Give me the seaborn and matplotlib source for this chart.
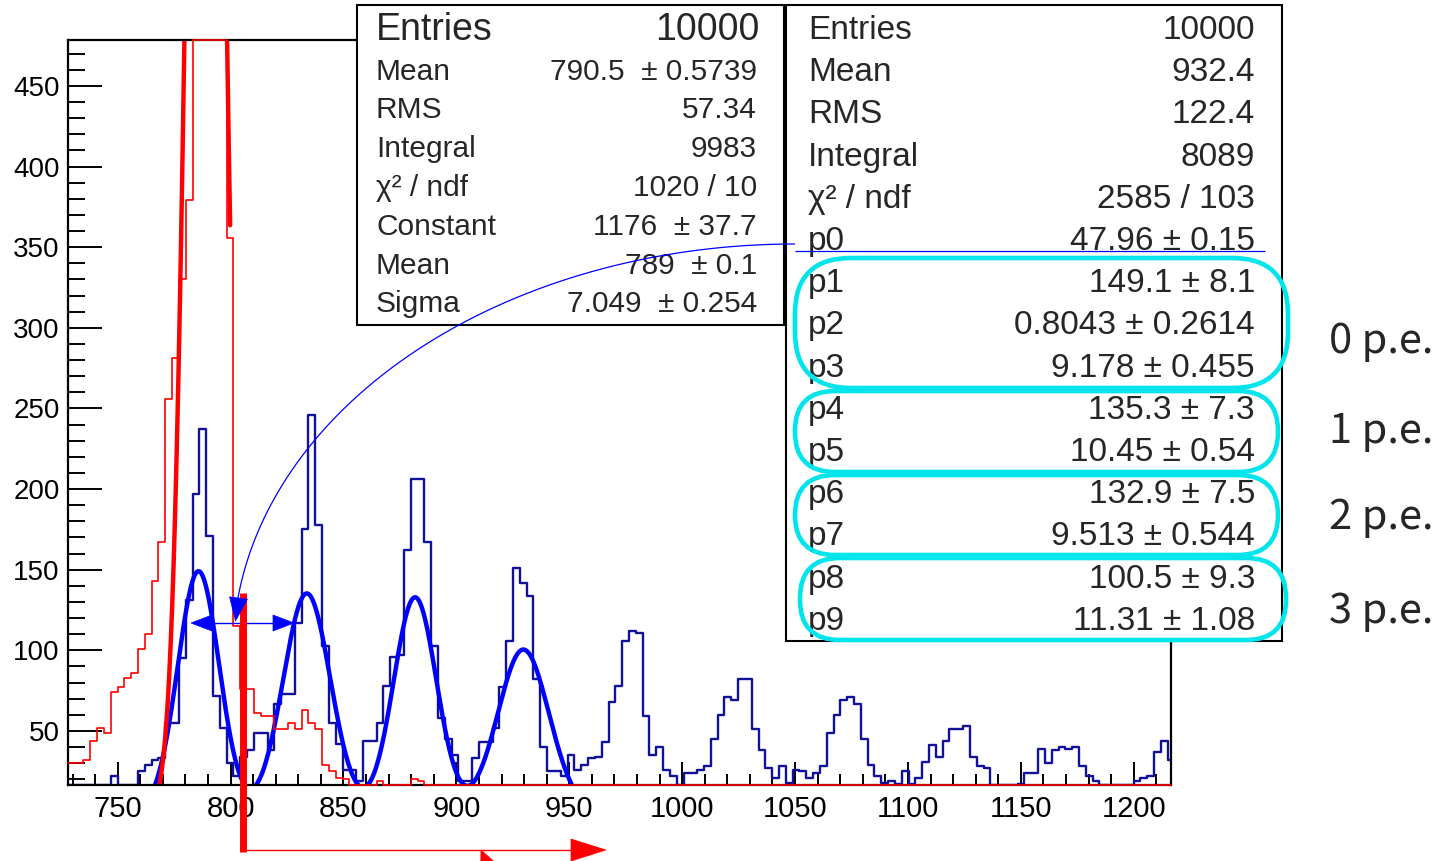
import numpy as np
import pandas as pd
import matplotlib
matplotlib.use("Agg")
import matplotlib.pyplot as plt
import seaborn as sns
from matplotlib.patches import Rectangle, FancyBboxPatch, Polygon
from matplotlib.lines import Line2D
from matplotlib.transforms import IdentityTransform
from matplotlib.ticker import MultipleLocator

# ---------------- data ----------------
BIN_START = 725.78
BIN_WIDTH = 3.02

blue_counts = [2, 3, 4, 5, 6, 8, 10,
    22, 14, 14, 14, 25, 29, 32, 33, 55, 55, 95, 131, 197, 237, 171, 72, 52, 30, 22,
    34, 38, 49, 49, 38, 67, 73, 73, 117, 175, 246, 178, 103, 55, 42, 26, 26, 19, 44, 44,
    55, 78, 96, 97, 162, 206, 206,
    167, 103, 58, 45, 35, 19, 19, 33, 43, 43, 52, 77, 106, 151, 142, 134, 82, 40, 25, 25, 22, 35, 26, 29, 33,
    34, 43, 68, 78, 106, 112, 111, 59, 35, 40, 26, 22, 12, 24, 24, 26, 28, 45, 60, 71, 69, 82, 82,
    51, 38, 27, 21, 28, 18, 26, 25, 21, 24, 28, 49, 60, 69, 71, 67, 45, 29, 22,
    18, 19, 17, 25, 17, 21, 31, 41, 34, 44, 51, 51, 53, 34, 28, 27, 10, 8, 6, 10,
    17, 24, 24, 39, 30, 38, 40, 39, 40, 28, 22, 19, 10, 8, 6, 8, 12, 19, 21, 22, 37, 44, 32]

red_counts = [30, 30, 30, 32, 44, 52, 49, 74, 77, 83, 86, 101, 110, 143, 167, 256, 281, 330, 379,
    700, 1150, 1200, 900, 600, 356, 115, 76, 76, 61, 59, 59, 51, 51, 55, 51, 63, 55, 51,
    29, 25, 21, 20, 10, 6, 5, 4, 19, 4, 3, 3, 4, 20, 19, 3] + [0] * 109

# Gaussian fit of the red histogram
red_fit_const, red_fit_mean, red_fit_sigma = 1176.0, 789.0, 7.049
red_fit_range = [762.0, 799.8]

# multi-Gaussian fit of the blue histogram
blue_fit_gain = 47.96
blue_fit_first_mean = 785.8
blue_fit_amps = [149.1, 135.3, 132.9, 100.5]
blue_fit_sigmas = [9.178, 10.45, 9.513, 11.31]
blue_fit_range = [755.0, 951.0]

x_ticks = [750, 800, 850, 900, 950, 1000, 1050, 1100, 1150, 1200]
y_ticks = [50, 100, 150, 200, 250, 300, 350, 400, 450]
XLIM = (728.0, 1216.5)
YLIM = (16.5, 478.5)

stats_red = [("Mean", "790.5  ± 0.5739"), ("RMS", "57.34"), ("Integral", "9983"),
             ("χ² / ndf", "1020 / 10"), ("Constant", "1176  ± 37.7"), ("Mean", "789  ± 0.1"),
             ("Sigma", "7.049  ± 0.254")]
stats_blue = [("Entries", "10000"), ("Mean", "932.4"), ("RMS", "122.4"), ("Integral", "8089"),
              ("χ² / ndf", "2585 / 103"), ("p0", "47.96 ± 0.15"), ("p1", "149.1 ± 8.1"),
              ("p2", "0.8043 ± 0.2614"), ("p3", "9.178 ± 0.455"), ("p4", "135.3 ± 7.3"),
              ("p5", "10.45 ± 0.54"), ("p6", "132.9 ± 7.5"), ("p7", "9.513 ± 0.544"),
              ("p8", "100.5 ± 9.3"), ("p9", "11.31 ± 1.08")]
pe_labels = ["0 p.e.", "1 p.e.", "2 p.e.", "3 p.e."]

# ---------------- style ----------------
sns.set_theme(style="ticks")
plt.rcParams["font.family"] = ["Liberation Sans", "DejaVu Sans"]

W, H = 1441, 861
fig = plt.figure(figsize=(W / 100, H / 100), dpi=100)
fig.patch.set_facecolor("white")
ax = fig.add_axes([68 / W, 1 - 785 / H, (1171 - 68) / W, (785 - 40) / H])
ax.set_facecolor("white")

NAVY = "#10109a"
BLUE = "#0000ff"
RED = "#ff0000"
CYAN = "#00e4ec"

edges = BIN_START + BIN_WIDTH * np.arange(len(blue_counts) + 1)


def step_frame(counts):
    c = np.clip(np.asarray(counts, float), YLIM[0], YLIM[1])
    return pd.DataFrame({"x": np.clip(edges, XLIM[0], XLIM[1]), "y": np.append(c, c[-1])})


blue_df = step_frame(blue_counts)
red_df = step_frame(red_counts)

sns.lineplot(data=blue_df, x="x", y="y", drawstyle="steps-post", estimator=None, sort=False,
             color=NAVY, linewidth=1.7, ax=ax)

xb = np.linspace(blue_fit_range[0], blue_fit_range[1], 600)
yb = np.zeros_like(xb)
for i, (a, s) in enumerate(zip(blue_fit_amps, blue_fit_sigmas)):
    yb += a * np.exp(-0.5 * ((xb - (blue_fit_first_mean + i * blue_fit_gain)) / s) ** 2)
sns.lineplot(x=xb, y=yb, color=BLUE, linewidth=3.2, estimator=None, ax=ax)

sns.lineplot(data=red_df, x="x", y="y", drawstyle="steps-post", estimator=None, sort=False,
             color=RED, linewidth=1.2, clip_on=False, zorder=3, ax=ax)

xr = np.linspace(red_fit_range[0], red_fit_range[1], 300)
yr = red_fit_const * np.exp(-0.5 * ((xr - red_fit_mean) / red_fit_sigma) ** 2)
sns.lineplot(x=xr, y=yr, color=RED, linewidth=3.2, estimator=None, ax=ax)

ax.set_xlim(*XLIM)
ax.set_ylim(*YLIM)
ax.set_xlabel("")
ax.set_ylabel("")
ax.set_xticks(x_ticks)
ax.set_yticks(y_ticks)
ax.xaxis.set_minor_locator(MultipleLocator(10))
ax.yaxis.set_minor_locator(MultipleLocator(10))
ax.tick_params(axis="both", which="both", direction="in", color="black", width=1.4,
               labelsize=20, labelcolor="black")
ax.tick_params(axis="x", which="major", length=16.5, pad=7, labelsize=21)
ax.tick_params(axis="x", which="minor", length=8)
ax.tick_params(axis="y", which="major", length=24.5, pad=6)
ax.tick_params(axis="y", which="minor", length=12)
for sp in ax.spines.values():
    sp.set_visible(True)
    sp.set_linewidth(1.6)
    sp.set_color("black")

# ---------------- annotations (pixel coordinates of the canvas) ----------------
T = IdentityTransform()


def P(x, y):
    return (x, H - y)


def rect(x0, y0, x1, y1):
    fig.add_artist(Rectangle(P(x0, y1), x1 - x0, y1 - y0, transform=T,
                             facecolor="white", edgecolor="black", linewidth=1.5, zorder=10))


def line(xs, ys, color, lw, z=12):
    fig.add_artist(Line2D(list(xs), [H - y for y in ys], transform=T, color=color,
                          linewidth=lw, solid_capstyle="butt", zorder=z))


def head(tip, back, half, color, z=12):
    tx, ty = tip
    bx, by = back
    d = np.array([tx - bx, ty - by], float)
    d /= np.hypot(*d)
    n = np.array([-d[1], d[0]])
    pts = [P(tx, ty), P(bx + n[0] * half, by + n[1] * half), P(bx - n[0] * half, by - n[1] * half)]
    fig.add_artist(Polygon(pts, closed=True, transform=T, facecolor=color, edgecolor=color,
                           linewidth=0.5, zorder=z))


# stats box of the red histogram
rect(357, 5, 784, 325)
fig.text(376 / W, 1 - 40 / H, "Entries", fontsize=27, ha="left", va="baseline", zorder=11)
fig.text(759 / W, 1 - 40 / H, "10000", fontsize=27, ha="right", va="baseline", zorder=11)
for i, (lab, val) in enumerate(stats_red):
    yb_ = 79.5 + i * 38.8
    fig.text(376 / W, 1 - yb_ / H, lab, fontsize=21.5, ha="left", va="baseline", zorder=11)
    fig.text(757 / W, 1 - yb_ / H, val, fontsize=21.5, ha="right", va="baseline", zorder=11)

# stats box of the blue histogram
rect(786, 5, 1282, 641)
for i, (lab, val) in enumerate(stats_blue):
    yb_ = 39 + i * 42.2
    fig.text(808 / W, 1 - yb_ / H, lab, fontsize=24, ha="left", va="baseline", zorder=11)
    fig.text(1255 / W, 1 - yb_ / H, val, fontsize=24, ha="right", va="baseline", zorder=11)

# cyan groupings
for (x0, y0, x1, y1, r) in [(795, 258, 1288, 388, 56), (795, 391, 1278, 472, 40),
                            (795, 475, 1278, 555, 40), (800, 558, 1286, 640, 40)]:
    fig.add_artist(FancyBboxPatch(P(x0, y1), x1 - x0, y1 - y0,
                                  boxstyle=f"round,pad=0,rounding_size={r}", transform=T,
                                  facecolor="none", edgecolor=CYAN, linewidth=3.3, zorder=13))

for lab, yc in zip(pe_labels, [338, 428, 514, 608]):
    fig.text(1329 / W, 1 - (yc + 15) / H, lab, fontsize=30, ha="left", va="baseline",
             family=["Noto Sans CJK JP", "DejaVu Sans"], zorder=11)

# blue underline of p0 and elliptical arrow
line([795, 1265], [251, 251], BLUE, 0.9, z=14)
ecx, ecy, ea, eb = 795.0, 652.0, 562.0, 408.0
phi = np.linspace(0.0, np.arccos(1 - (598 - 244) / eb), 200)
line(ecx - ea * np.sin(phi), 244 + eb * (1 - np.cos(phi)), BLUE, 0.9, z=14)
head((235.5, 621), (238.5, 598), 9, BLUE, z=14)

# blue double arrow
line([200, 285], [623, 623], BLUE, 1.0)
head((191, 623), (212, 623), 8, BLUE)
head((294, 623), (273, 623), 8, BLUE)

# red threshold marker and arrow
line([242.5, 242.5], [593, 852], RED, 5.0)
line([242, 580], [850, 850], RED, 1.0)
head((606, 850), (571, 850), 11, RED)
head((481, 850), (488, 866), 8, RED)

fig.savefig("out.png", dpi=100)
